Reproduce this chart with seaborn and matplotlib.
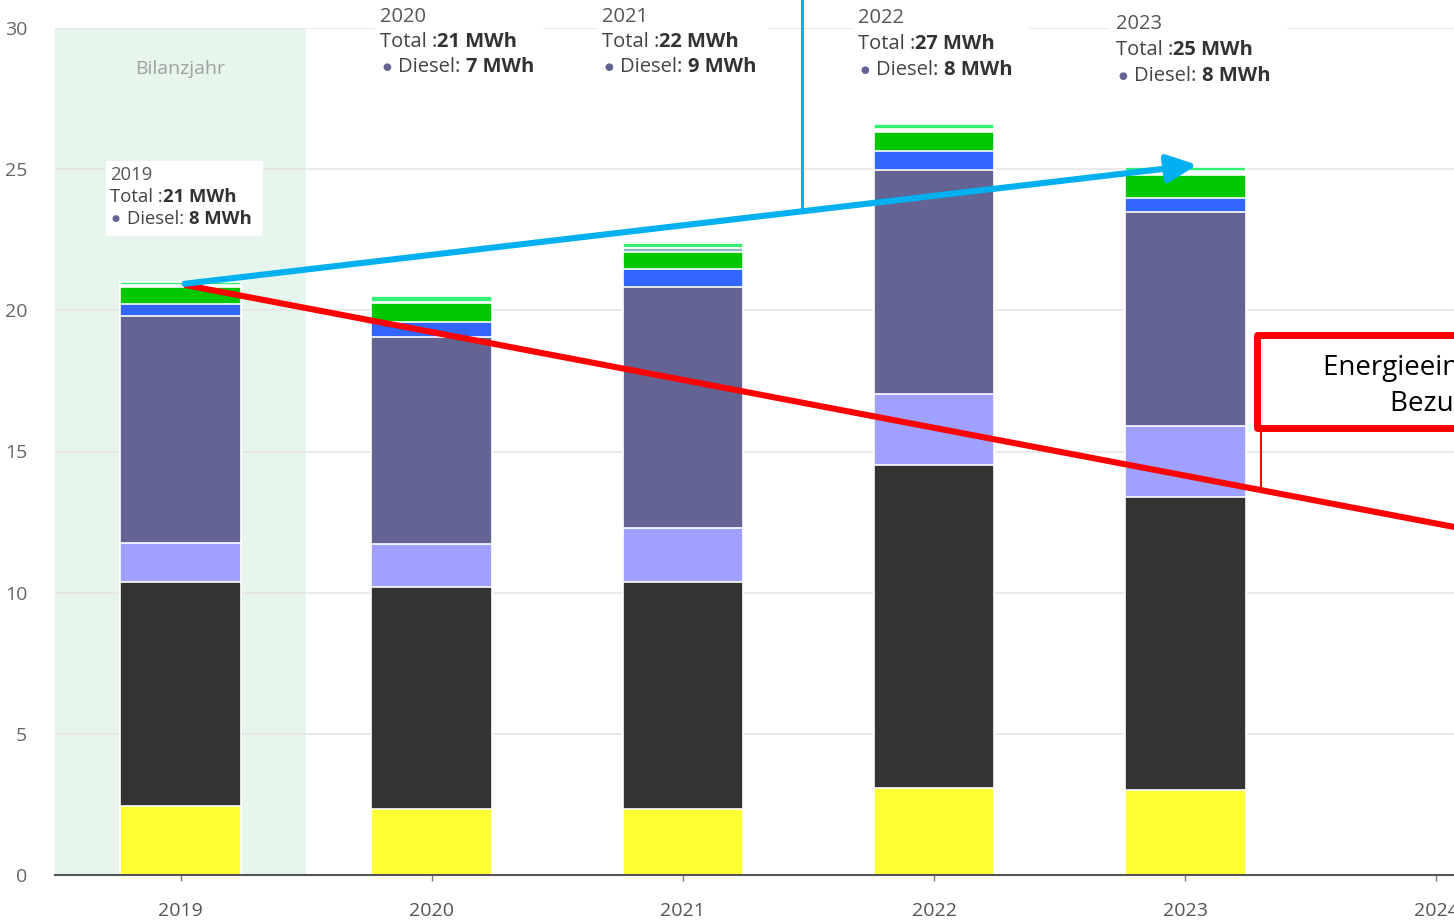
import matplotlib
matplotlib.use("Agg")
import matplotlib.pyplot as plt
from matplotlib.patches import Rectangle
import pandas as pd
import seaborn as sns

# ---------------------------------------------------------------- data
years = ["2019", "2020", "2021", "2022", "2023"]
axis_years = ["2019", "2020", "2021", "2022", "2023", "2024"]

# energy carriers, listed from the bottom of each stack to the top (MWh)
carriers = ["Solarstrom", "Netzstrom", "Benzin", "Diesel", "Erdgas",
            "Fernwärme", "Holz", "Übrige", "Biogas"]
solarstrom = [2.44, 2.34, 2.34, 3.08, 3.01]
netzstrom = [7.94, 7.86, 8.04, 11.44, 10.38]
benzin = [1.38, 1.53, 1.91, 2.52, 2.51]
diesel = [8.04, 7.33, 8.52, 7.93, 7.59]
erdgas = [0.43, 0.53, 0.64, 0.68, 0.49]
fernwaerme = [0.60, 0.67, 0.60, 0.67, 0.82]
holz = [0.00, 0.00, 0.15, 0.00, 0.00]
uebrige = [0.05, 0.05, 0.00, 0.12, 0.15]
biogas = [0.13, 0.21, 0.17, 0.16, 0.13]

carrier_colors = ["#FFFF33", "#333333", "#A0A0FF", "#636494", "#3366FF",
                  "#00C800", "#8FB8BC", "#FFFFFF", "#33F070"]

bilanz_label = "Bilanzjahr"
note_lines = ["Energieeinsparung gegenüber", "Bezugsjahr 2019"]

df = pd.DataFrame({
    "Jahr": years,
    "Solarstrom": solarstrom, "Netzstrom": netzstrom, "Benzin": benzin,
    "Diesel": diesel, "Erdgas": erdgas, "Fernwärme": fernwaerme,
    "Holz": holz, "Übrige": uebrige, "Biogas": biogas,
})
stack = df[carriers].cumsum(axis=1)
totals = stack[carriers[-1]]

# ---------------------------------------------------------------- figure
W, H = 1454, 923
sns.set_theme(style="white")
plt.rcParams["font.family"] = ["Open Sans", "DejaVu Sans"]

fig = plt.figure(figsize=(W / 100, H / 100), dpi=100)
ax = fig.add_axes([55 / W, 48 / H, 1 - 55 / W, (875 - 28) / H])

# reference year band
ax.axvspan(-0.5, 0.5, color="#E6F6EC", zorder=0, lw=0)
ax.text(0, 28.55, bilanz_label, ha="center", va="center",
        color="#A0A0A0", fontsize=14, zorder=3)

# stacked bars: cumulative layers drawn from the top layer downwards
for name, color in reversed(list(zip(carriers, carrier_colors))):
    sns.barplot(x=df["Jahr"], y=stack[name], color=color, saturation=1,
                width=0.48, edgecolor="white", linewidth=1.2,
                ax=ax, zorder=2)

ax.set_xlim(-0.5, 5.07)
ax.set_ylim(0, 30)
ax.set_xticks(range(len(axis_years)))
ax.set_xticklabels(axis_years)
ax.set_yticks(range(0, 31, 5))
ax.set_xlabel("")
ax.set_ylabel("")
ax.yaxis.grid(True, color="#E6E6E6", lw=1.2)
ax.xaxis.grid(False)
ax.set_axisbelow(True)
for side in ("left", "top", "right"):
    ax.spines[side].set_visible(False)
ax.spines["bottom"].set_color("#555555")
ax.spines["bottom"].set_linewidth(1.5)
ax.tick_params(axis="y", length=0, pad=20, labelsize=14, labelcolor="#666666")
ax.tick_params(axis="x", length=4.5, width=1, color="#777777", pad=15,
               labelsize=14, labelcolor="#555555", bottom=True)

# trend lines
slope = -1.696
x0, y0 = 0.016, 20.9
x1 = 5.3
ax.plot([x0, x1], [y0, y0 + slope * (x1 - x0)], color="#FF0000", lw=4.4,
        solid_capstyle="butt", clip_on=False, zorder=5)
ax.annotate("", xy=(4.048, 25.15), xytext=(0.016, 20.94),
            arrowprops=dict(arrowstyle="-|>,head_length=0.9,head_width=0.42",
                            color="#00B0F0", lw=4.4, mutation_scale=20,
                            shrinkA=0, shrinkB=0),
            zorder=6, annotation_clip=False)
ax.plot([2.474, 2.474], [23.63, 32], color="#00B0F0", lw=2.2,
        clip_on=False, zorder=4)

# note box with connector down to the red trend line
xc = 4.303
ax.plot([xc, xc], [y0 + slope * (xc - x0), 15.83], color="#FF0000", lw=1.5,
        zorder=4, clip_on=False)
ax.add_patch(Rectangle((4.287, 15.83), 3.0, 19.13 - 15.83, facecolor="white",
                       edgecolor="#FF0000", lw=5, joinstyle="round",
                       clip_on=False, zorder=7))


def fxy(px, py):
    return px / W, 1 - py / H


fig.text(*fxy(1323, 375), note_lines[0], fontsize=20, color="black",
         va="baseline", ha="left", zorder=8)
fig.text(*fxy(1390, 411), note_lines[1], fontsize=20, color="black",
         va="baseline", ha="left", zorder=8)

# tooltips with yearly totals
renderer = fig.canvas.get_renderer()
tip_boxes = [(106, 161, 263, 236), (375, -5, 543, 82), (597, -5, 768, 82),
             (854, -5, 1029, 84), (1110, -5, 1287, 90)]
tip_text = [(110, 175, 22, 13.3), (380, 17, 25, 14.5), (602, 17, 25, 14.5),
            (858, 18, 26, 14.5), (1116, 24, 26, 14.5)]


def run_text(px, py, parts, size):
    x = px
    for txt, weight, color in parts:
        t = fig.text(*fxy(x, py), txt, fontsize=size, fontweight=weight,
                     color=color, va="center", ha="left", zorder=10)
        x += t.get_window_extent(renderer).width
    return x


for i, year in enumerate(years):
    bx0, by0, bx1, by1 = tip_boxes[i]
    fig.add_artist(Rectangle(fxy(bx0, by1), (bx1 - bx0) / W, (by1 - by0) / H,
                             transform=fig.transFigure, facecolor="white",
                             edgecolor="none", zorder=9))
    px, py, step, size = tip_text[i]
    run_text(px, py, [(year, "normal", "#555555")], size)
    run_text(px, py + step, [("Total :", "normal", "#444444"),
                             (f"{round(totals[i])} MWh", "bold", "#333333")], size)
    bullet = fig.text(*fxy(px + 2, py + 2 * step), "●", fontsize=size * 0.5,
                      color="#636494", va="center", ha="left", zorder=10,
                      family="DejaVu Sans")
    bw = bullet.get_window_extent(renderer).width
    run_text(px + 2 + bw + 7, py + 2 * step,
             [("Diesel: ", "normal", "#444444"),
              (f"{round(diesel[i])} MWh", "bold", "#333333")], size)

fig.savefig("out.png", dpi=100)
